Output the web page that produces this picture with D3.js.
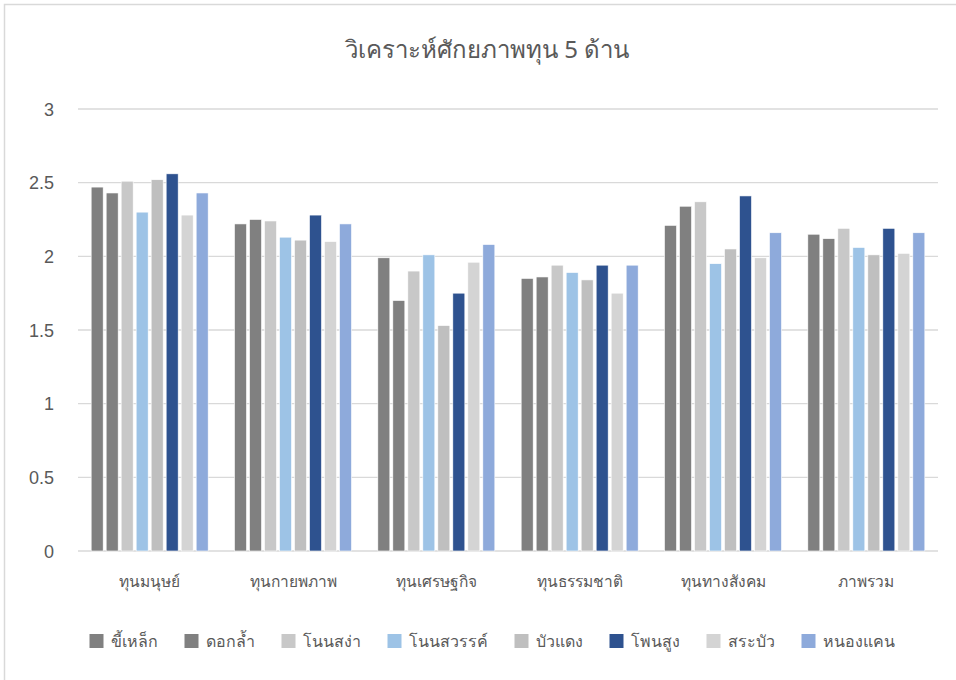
<!DOCTYPE html>
<html><head><meta charset="utf-8">
<script src="https://cdn.jsdelivr.net/npm/d3@7"></script>
<style>
html,body{margin:0;padding:0;background:#fff;}
svg{display:block;font-family:"Noto Sans","DejaVu Sans",sans-serif;}
</style></head>
<body>
<svg id="c" width="956" height="680"></svg>
<script>
const title = "วิเคราะห์ศักยภาพทุน  5 ด้าน";
const categories = ["ทุนมนุษย์","ทุนกายพภาพ","ทุนเศรษฐกิจ","ทุนธรรมชาติ","ทุนทางสังคม","ภาพรวม"];
const seriesNames = ["ขี้เหล็ก","ดอกล้ำ","โนนสง่า","โนนสวรรค์","บัวแดง","โพนสูง","สระบัว","หนองแคน"];
const seriesColors = ["#808080","#808080","#c8c8c8","#9dc3e6","#bfbfbf","#2e528f","#d4d4d4","#8eaadb"];
const khilek   = [2.47,2.22,1.99,1.85,2.21,2.15];
const dokkram  = [2.43,2.25,1.70,1.86,2.34,2.12];
const nonsanga = [2.51,2.24,1.90,1.94,2.37,2.19];
const nonsawan = [2.30,2.13,2.01,1.89,1.95,2.06];
const buadaeng = [2.52,2.11,1.53,1.84,2.05,2.01];
const phonsung = [2.56,2.28,1.75,1.94,2.41,2.19];
const srabua   = [2.28,2.10,1.96,1.75,1.99,2.02];
const nongkhaen= [2.43,2.22,2.08,1.94,2.16,2.16];
const seriesValues = [khilek,dokkram,nonsanga,nonsawan,buadaeng,phonsung,srabua,nongkhaen];
const yTicks = [0,0.5,1,1.5,2,2.5,3];

(function(){
const svg = d3.select("#c");
svg.append("path").attr("d","M4.5,680 V4.5 H956").attr("fill","none").attr("stroke","#d9d9d9").attr("stroke-width",1.5);

const pL=78, pR=938, pT=109, pB=551;
const y = d3.scaleLinear().domain([0,3]).range([pB,pT]);
const x0 = d3.scaleBand().domain(categories).range([pL,pR]).padding(0);
const x1 = d3.scaleBand().domain(seriesNames).range([-60,60]).paddingInner(0.2).paddingOuter(0.1);

svg.append("g").selectAll("line").data(yTicks).join("line")
  .attr("x1",pL).attr("x2",pR).attr("y1",d=>y(d)).attr("y2",d=>y(d))
  .attr("stroke","#d9d9d9").attr("stroke-width",1.3);

const yAxis = d3.axisLeft(y).tickValues(yTicks).tickSize(0).tickPadding(0).tickFormat(d=>String(d));
const gy = svg.append("g").attr("transform",`translate(54,0)`).call(yAxis);
gy.select(".domain").remove();
gy.selectAll("text").attr("fill","#595959").attr("font-size",18).attr("dy","0.35em");

const g = svg.append("g");
seriesNames.forEach((s,si)=>{
  g.append("g").selectAll("rect").data(seriesValues[si]).join("rect")
    .attr("x",(d,i)=>x0(categories[i])+x0.bandwidth()/2+x1(s))
    .attr("width",x1.bandwidth())
    .attr("y",d=>y(d)).attr("height",d=>y(0)-y(d))
    .attr("fill",seriesColors[si]).attr("stroke","#ffffff").attr("stroke-width",0.6);
});

const xAxis = d3.axisBottom(x0).tickSize(0).tickPadding(0);
const gx = svg.append("g").attr("transform",`translate(0,582)`).call(xAxis);
gx.select(".domain").remove();
gx.selectAll("text").attr("fill","#595959").attr("font-size",15.5).attr("dy","0.35em");

svg.append("text").attr("x",487).attr("y",50).attr("text-anchor","middle").attr("dy","0.35em")
  .attr("fill","#595959").attr("font-size",24).text(title);

const lg = svg.append("g");
const items = lg.selectAll("g").data(seriesNames).join("g");
items.append("rect").attr("width",14).attr("height",14).attr("y",-7).attr("fill",(d,i)=>seriesColors[i]);
items.append("text").attr("x",21).attr("dy","0.35em").attr("fill","#595959").attr("font-size",16).text(d=>d);
let xpos=0;
const gap=27;
const pos=[];
items.each(function(d,i){ const w=this.getBBox().width; pos.push(xpos); xpos+=w+gap; });
const total = xpos-gap;
const startX = 492 - total/2;
items.attr("transform",(d,i)=>`translate(${startX+pos[i]},641)`);
})();
</script>
</body></html>
